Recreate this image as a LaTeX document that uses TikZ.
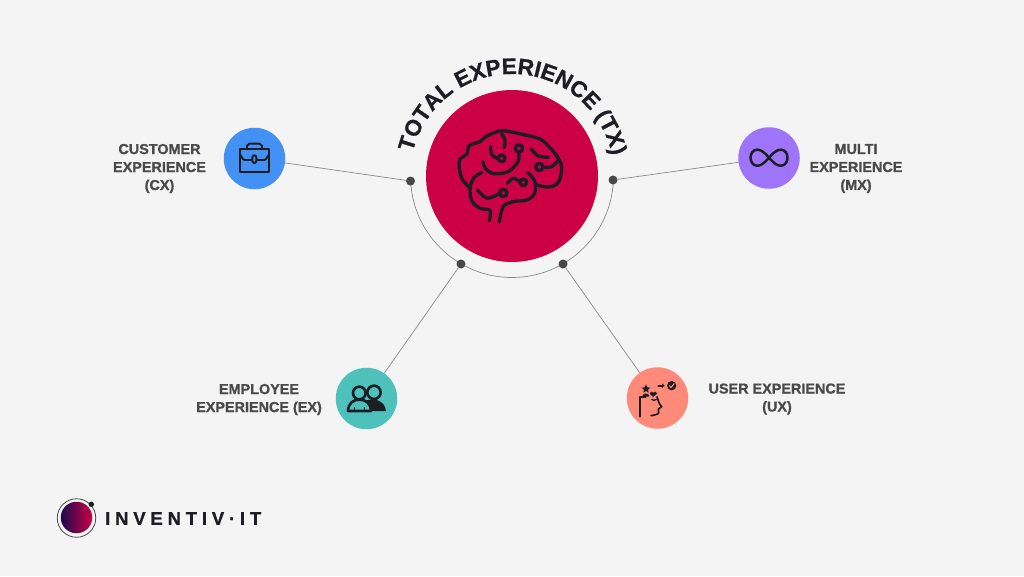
\documentclass[tikz,border=0pt]{standalone}
\usepackage{fontspec}
\setmainfont{Liberation Sans}[BoldFeatures={FakeBold=0.9}]
\usetikzlibrary{decorations.text}
\definecolor{bgc}{HTML}{F4F4F4}
\definecolor{ink}{HTML}{1D1D24}
\definecolor{lab}{HTML}{4A4A4A}
\definecolor{wire}{HTML}{8A8A8A}
\definecolor{dotc}{HTML}{484848}
\definecolor{crimson}{HTML}{CC0044}
\definecolor{navy}{HTML}{1A0A50}
\definecolor{cxc}{HTML}{4391F5}
\definecolor{mxc}{HTML}{9E75FA}
\definecolor{exc}{HTML}{4FC1BC}
\definecolor{uxc}{HTML}{FF8A7A}
\tikzset{
  disc/.style={circle,minimum size=61.5pt,inner sep=0pt,fill=#1},
  jointdot/.style={circle,minimum size=9pt,inner sep=0pt,fill=dotc},
  wireline/.style={draw=wire,line width=0.7pt},
  lbl/.style={align=center,text=lab,font=\fontsize{14.4}{18}\selectfont\bfseries},
  icon/.style={draw=ink,line cap=round,line join=round,line width=#1},
  icon/.default=1.7pt
}
\begin{document}
\begin{tikzpicture}[x=1pt,y=-1pt]
\fill[bgc] (0,0) rectangle (1024,576);
\useasboundingbox (0,0) rectangle (1024,576);
\coordinate (c) at (512,176);
\node[circle,minimum size=172pt,inner sep=0pt,fill=crimson] (tx) at (c) {};
% arc
\draw[wireline] (c) ++(183:101.5pt) arc[start angle=183,end angle=357,radius=101.5pt];
% dots
\node[jointdot] (d1) at (410.5,181) {};
\node[jointdot] (d2) at (613,180) {};
\node[jointdot] (d3) at (461,264) {};
\node[jointdot] (d4) at (563,264) {};
% outer nodes
\node[disc=cxc] (cx) at (254.5,158.5) {};
\node[disc=mxc] (mx) at (769,158) {};
\node[disc=exc] (ex) at (366.5,398.5) {};
\node[disc=uxc] (ux) at (657.5,398) {};
\draw[wireline] (cx) -- (d1);
\draw[wireline] (mx) -- (d2);
\draw[wireline] (ex) -- (d3);
\draw[wireline] (ux) -- (d4);
% labels
\node[lbl] (lcx) at (159.5,168.5) {CUSTOMER\\EXPERIENCE\\(CX)};
\node[lbl] (lmx) at (856,168.5) {MULTI\\EXPERIENCE\\(MX)};
\node[lbl] (lex) at (259,399.5) {EMPLOYEE\\EXPERIENCE (EX)};
\node[lbl] (lux) at (777,399) {USER EXPERIENCE\\(UX)};
% curved title
\path[decorate,decoration={text along path,text align=center,
  text={|\fontsize{22.5}{22}\selectfont\bfseries\color{ink}|TOTAL EXPERIENCE (TX)}}]
  (c) ++(175:102pt) arc[start angle=175,end angle=3,radius=102pt];
% brain
\begin{scope}[shift={(450,125)},x=0.3333pt,y=-0.3333pt,icon=3.3pt]
\draw plot[smooth,tension=0.55] coordinates {(118,287)(120,256)(90,250)(66,228)(60,190)(72,158)(95,143)};
\draw plot[smooth,tension=0.6] coordinates {(62,190)(38,165)(28,130)(30,102)(50,88)(58,62)(90,50)(108,35)(150,18)(190,22)(225,30)(270,42)(300,68)(318,90)(335,125)(325,172)(295,186)(262,180)};
\draw plot[smooth,tension=0.6] coordinates {(233,143)(254,168)(254,205)(230,225)(190,230)(160,245)(148,291)};
\draw plot[smooth] coordinates {(155,26)(165,45)(163,68)};
\draw plot[smooth] coordinates {(122,65)(125,88)(145,102)};
\draw (155,100) circle (10);
\draw (207,70) circle (11);
\draw plot[smooth] coordinates {(207,81)(204,110)(175,140)(130,146)(106,130)(99,110)};
\draw plot[smooth] coordinates {(243,72)(265,93)(295,97)};
\draw (268,126) circle (11);
\draw plot[smooth] coordinates {(279,126)(303,126)(325,105)(316,85)};
\draw plot[smooth] coordinates {(172,175)(190,160)(210,170)};
\draw (220,172) circle (10);
\draw (160,204) circle (11);
\draw plot[smooth] coordinates {(149,205)(112,220)(82,195)};
\end{scope}
% briefcase
\begin{scope}[shift={(222,127)},x=0.3333pt,y=-0.3333pt,icon=1.9pt]
\draw (55,67) rectangle (140,135);
\draw (75,67) -- (75,56) to[out=-90,in=180] (82,50) -- (113,50) to[out=0,in=-90] (120,56) -- (120,67);
\draw (55,86) to[out=90,in=180] (68,99) -- (90,99);
\draw (104,99) -- (127,99) to[out=0,in=90] (140,86);
\draw[rounded corners=2pt] (91,85) rectangle (103,108);
\end{scope}
% infinity
\begin{scope}[shift={(769,157.7)},icon=2.5pt]
\draw (0,0) .. controls (6,-7) and (9,-8) .. (12,-8) .. controls (16,-8) and (18.5,-4) .. (18.5,0)
 .. controls (18.5,4) and (16,8) .. (12,8) .. controls (9,8) and (6,7) .. (0,0)
 .. controls (-6,-7) and (-9,-8) .. (-12,-8) .. controls (-16,-8) and (-18.5,-4) .. (-18.5,0)
 .. controls (-18.5,4) and (-16,8) .. (-12,8) .. controls (-9,8) and (-6,7) .. (0,0) -- cycle;
\end{scope}
% employees
\begin{scope}[shift={(335,367)},x=0.3333pt,y=-0.3333pt]
\fill[ink] (95,132) -- (95,100) .. controls (115,92) and (150,100) .. (153,132) -- cycle;
\draw[icon=2.6pt] (117,76) circle (20);
\fill[exc] (73,78) circle (19);
\draw[icon=2.6pt] (73,78) circle (19);
\filldraw[fill=exc,icon=2.6pt] (39,132) .. controls (40,108) and (55,98) .. (73,98) .. controls (92,98) and (107,108) .. (108,132) -- cycle;
\fill[ink] (57,120) rectangle (60,131);
\fill[ink] (87,120) rectangle (90,131);
\end{scope}
% user experience head
\begin{scope}[shift={(625,365)},x=0.3333pt,y=-0.3333pt]
\draw[icon=1.7pt] (46,155) -- (46,95) -- (62,95);
\draw[icon=1.7pt] (96,95) .. controls (100,105) and (100,115) .. (110,125) -- (100,132) -- (101,143) .. controls (100,148) and (90,150) .. (78,152);
\draw[icon=1.3pt] (80,103) .. controls (84,107) and (90,107) .. (94,103);
\fill[ink] (63,58) -- (67,67) -- (76,68) -- (69,74) -- (71,83) -- (63,78) -- (55,83) -- (57,74) -- (50,68) -- (59,67) -- cycle;
\fill[ink] (52,95) .. controls (53,85) and (65,82) .. (72,90) -- (72,95) -- cycle;
\fill[ink] (84,96) -- (74,86) .. controls (74,78) and (83,78) .. (85,83) .. controls (87,78) and (97,78) .. (96,86) -- cycle;
\draw[icon=2pt] (100,62) -- (112,62);
\fill[ink] (111,55) -- (119,62) -- (111,69) -- cycle;
\fill[ink] (140,62) circle (14);
\draw[draw=uxc,line width=1.1pt,line cap=round,line join=round] (133,62) -- (138,68) -- (147,56);
\end{scope}
% logo
\node[circle,minimum size=38.5pt,inner sep=0pt,draw=lab,line width=0.8pt] (ring) at (76.5,518) {};
\node[circle,minimum size=31.5pt,inner sep=0pt,left color=navy,right color=crimson] (ball) at (76.5,517.5) {};
\node[circle,minimum size=5.5pt,inner sep=0pt,fill=ink] (sat) at (91.3,504.3) {};
\node[anchor=west,inner sep=0pt,text=ink] (brand) at (105,518.5) {\fontsize{18.5}{20}\selectfont\bfseries\addfontfeature{LetterSpace=26}INVENTIV·IT};
\end{tikzpicture}
\end{document}
